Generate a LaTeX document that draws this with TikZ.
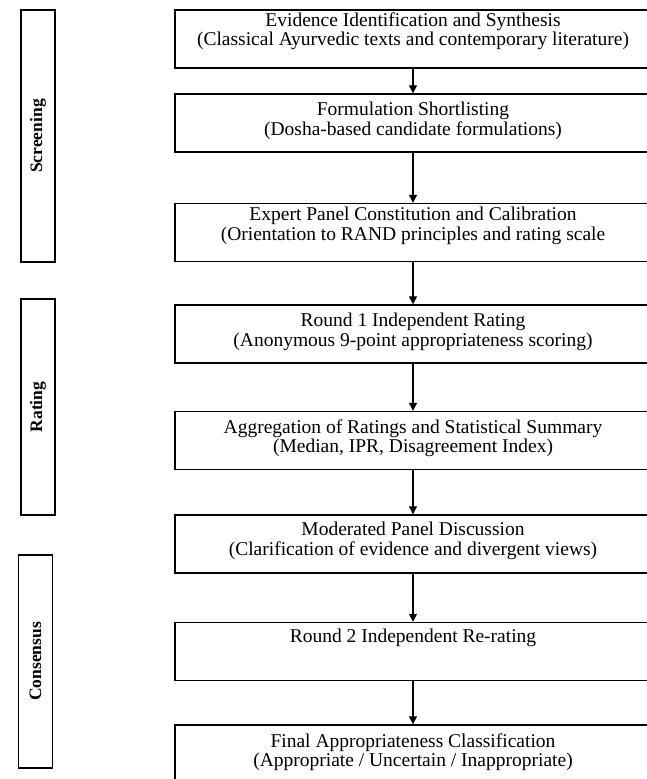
\documentclass[tikz,border=0pt]{standalone}
\usepackage{fontspec}
\setmainfont{Liberation Serif}
\usetikzlibrary{arrows.meta,positioning}

\begin{document}
\begin{tikzpicture}[x=1pt, y=-1pt, >={Triangle[length=8pt, width=8pt]},
    stagebox/.style={draw, line width=1.4pt, minimum width=476pt, minimum height=58pt, inner sep=0pt},
    stagetext/.style={align=center, inner sep=0pt, font=\fontsize{19.5}{19.5}\selectfont},
    phase/.style={draw, line width=1.2pt, rotate=90, minimum height=34pt, inner sep=0pt,
      font=\fontsize{17.5}{17.5}\selectfont\bfseries},
    flow/.style={->, line width=1.2pt}]
  \useasboundingbox (0,0) rectangle (647,779);
  % phases on the left
  \node[phase, minimum width=252pt] (screening) at (38,136) {Screening};
  \node[phase, minimum width=216pt] (rating) at (38,407) {Rating};
  \node[phase, minimum width=213pt] (consensus) at (35.5,661.5) {Consensus};
  % stage boxes
  \node[stagebox] (s1) at (413,39) {};
  \node[stagebox] (s2) at (413,123) {};
  \node[stagebox] (s3) at (413,232.5) {};
  \node[stagebox] (s4) at (413,334) {};
  \node[stagebox] (s5) at (413,440.5) {};
  \node[stagebox] (s6) at (413,544) {};
  \node[stagebox] (s7) at (413,651.5) {};
  \node[stagebox] (s8) at (413,754) {};
  % stage texts
  \node[stagetext] (t1) at (413,31) {Evidence Identification and Synthesis\\(Classical Ayurvedic texts and contemporary literature)};
  \node[stagetext] (t2) at (413,121) {Formulation Shortlisting\\(Dosha-based candidate formulations)};
  \node[stagetext] (t3) at (413,226) {Expert Panel Constitution and Calibration\\(Orientation to RAND principles and rating scale};
  \node[stagetext] (t4) at (413,332) {Round 1 Independent Rating\\(Anonymous 9-point appropriateness scoring)};
  \node[stagetext] (t5) at (413,438) {Aggregation of Ratings and Statistical Summary\\(Median, IPR, Disagreement Index)};
  \node[stagetext] (t6) at (413,541) {Moderated Panel Discussion\\(Clarification of evidence and divergent views)};
  \node[stagetext] (t7) at (413,638) {Round 2 Independent Re-rating};
  \node[stagetext] (t8) at (413,752) {Final Appropriateness Classification\\(Appropriate / Uncertain / Inappropriate)};
  % arrows
  \foreach \a/\b in {s1/s2, s2/s3, s3/s4, s4/s5, s5/s6, s6/s7, s7/s8}
    \draw[flow] (\a.south) -- (\b.north);
\end{tikzpicture}
\end{document}
